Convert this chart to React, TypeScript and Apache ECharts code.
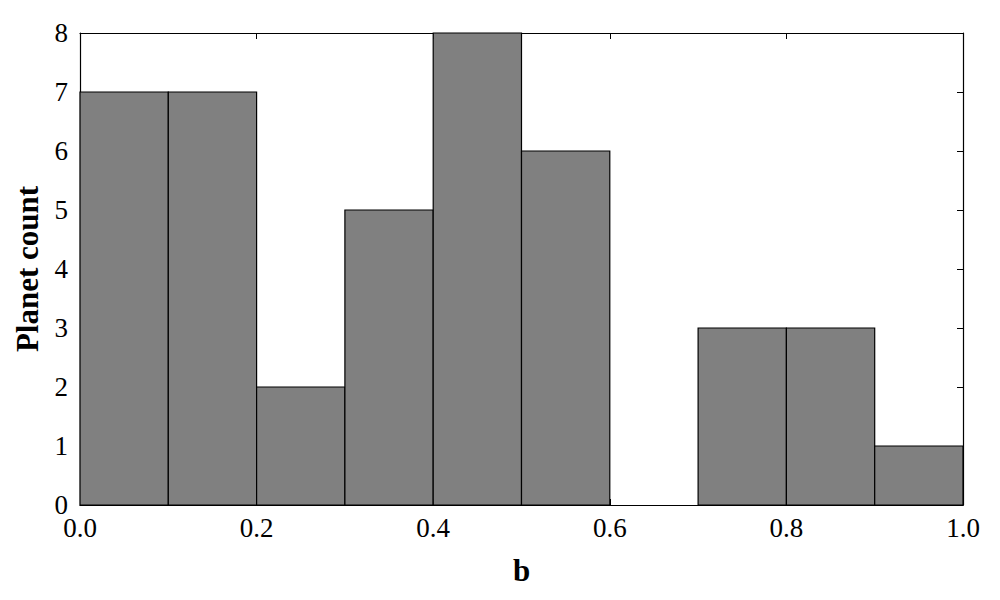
import React, { useEffect, useRef } from "react";
import * as echarts from "echarts";

const binStarts = [0.0, 0.1, 0.2, 0.3, 0.4, 0.5, 0.6, 0.7, 0.8, 0.9];
const binWidth = 0.1;
const counts = [7, 7, 2, 5, 8, 6, 0, 3, 3, 1];

const FONT = "'Liberation Serif', 'DejaVu Serif', serif";

export default function App() {
  const ref = useRef<HTMLDivElement>(null);
  useEffect(() => {
    document.body.style.margin = "0";
    const chart = echarts.init(ref.current!, null, { renderer: "svg" });
    const data = binStarts.map((s, i) => [s, s + binWidth, counts[i]]);
    const axisCommon = {
      axisLine: { show: true, onZero: false, lineStyle: { color: "#000", width: 1.2 } },
      axisTick: { show: true, inside: true, length: 6, lineStyle: { color: "#000", width: 1 } },
      splitLine: { show: false },
    };
    chart.setOption({
      animation: false,
      backgroundColor: "#fff",
      grid: {
        left: 80,
        right: 37,
        top: 33,
        bottom: 95,
        containLabel: false,
        outerBoundsMode: "none",
      },
      xAxis: [
        {
          type: "value",
          min: 0,
          max: 1,
          interval: 0.2,
          position: "bottom",
          ...axisCommon,
          axisLabel: {
            formatter: (v: number) => v.toFixed(1),
            fontFamily: FONT,
            fontSize: 27,
            color: "#000",
            margin: 9,
            hideOverlap: false,
          },
          name: "b",
          nameLocation: "middle",
          nameGap: 50,
          nameTextStyle: { fontFamily: FONT, fontSize: 31, fontWeight: "bold", color: "#000" },
        },
        {
          type: "value",
          min: 0,
          max: 1,
          interval: 0.2,
          position: "top",
          ...axisCommon,
          axisLabel: { show: false },
        },
      ],
      yAxis: [
        {
          type: "value",
          min: 0,
          max: 8,
          interval: 1,
          position: "left",
          ...axisCommon,
          axisLabel: { fontFamily: FONT, fontSize: 27, color: "#000", margin: 12, hideOverlap: false },
          name: "Planet count",
          nameLocation: "middle",
          nameGap: 37,
          nameTextStyle: { fontFamily: FONT, fontSize: 31, fontWeight: "bold", color: "#000" },
        },
        {
          type: "value",
          min: 0,
          max: 8,
          interval: 1,
          position: "right",
          ...axisCommon,
          axisLabel: { show: false },
        },
      ],
      series: [
        {
          type: "custom",
          xAxisIndex: 0,
          yAxisIndex: 0,
          data,
          encode: { x: [0, 1], y: 2 },
          renderItem: (params: any, api: any) => {
            const x0 = api.value(0);
            const x1 = api.value(1);
            const h = api.value(2);
            if (!h) return null;
            const p0 = api.coord([x0, h]);
            const p1 = api.coord([x1, 0]);
            return {
              type: "rect",
              shape: { x: p0[0], y: p0[1], width: p1[0] - p0[0], height: p1[1] - p0[1] },
              style: { fill: "#808080", stroke: "#000", lineWidth: 1.2 },
            };
          },
        },
      ],
    });
    return () => chart.dispose();
  }, []);
  return <div ref={ref} style={{ width: 1000, height: 600 }} />;
}
